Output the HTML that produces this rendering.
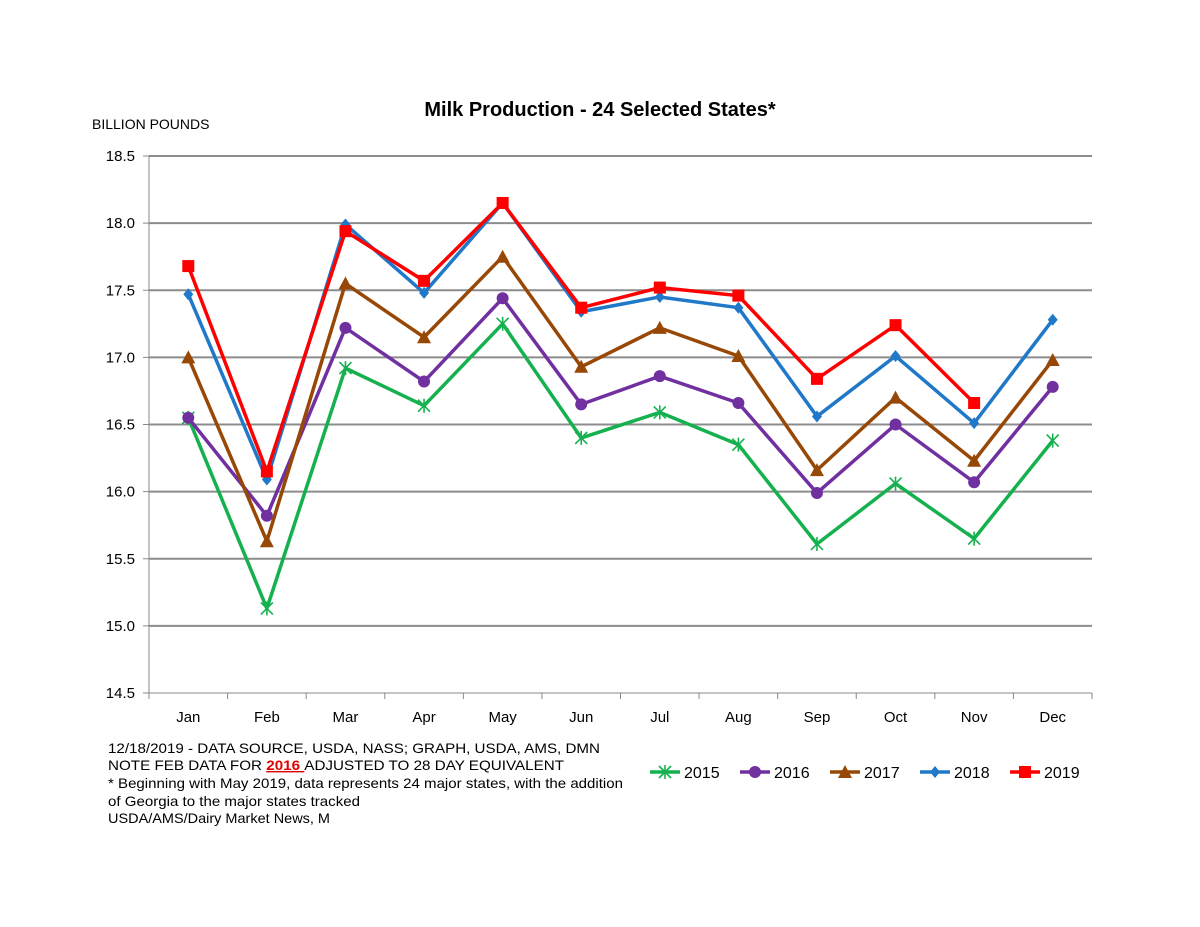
<!DOCTYPE html>
<html><head><meta charset="utf-8"><style>
body{margin:0;background:#fff;}
svg{display:block;font-family:"Liberation Sans",Arial,sans-serif;}
</style></head><body>
<svg id="chart" width="1200" height="927" viewBox="0 0 1200 927">
<rect width="1200" height="927" fill="#fff"/>
<text x="600" y="116" text-anchor="middle" font-size="20" font-weight="bold">Milk Production - 24 Selected States*</text>
<text x="92" y="129" font-size="14">BILLION POUNDS</text>
<g id="grid"></g><g id="axes"></g><g id="series"></g><g id="legend"></g>
<g font-size="14">
<text x="108" y="753" textLength="492" lengthAdjust="spacingAndGlyphs">12/18/2019 - DATA SOURCE, USDA, NASS; GRAPH, USDA, AMS, DMN</text>
<text x="108" y="770" textLength="456" lengthAdjust="spacingAndGlyphs">NOTE FEB DATA FOR <tspan fill="#e00000" font-weight="bold" text-decoration="underline">2016 </tspan>ADJUSTED TO 28 DAY EQUIVALENT</text>
<text x="108" y="788" textLength="515" lengthAdjust="spacingAndGlyphs">* Beginning with May 2019, data represents 24 major states, with the addition</text>
<text x="108" y="806" textLength="252" lengthAdjust="spacingAndGlyphs">of Georgia to the major states tracked</text>
<text x="108" y="823" textLength="222" lengthAdjust="spacingAndGlyphs">USDA/AMS/Dairy Market News, M</text>
</g>
</svg>
<script>
const months=["Jan","Feb","Mar","Apr","May","Jun","Jul","Aug","Sep","Oct","Nov","Dec"];
const yTicks=[14.5,15.0,15.5,16.0,16.5,17.0,17.5,18.0,18.5];
const s2015=[16.55,15.13,16.92,16.64,17.25,16.40,16.59,16.35,15.61,16.06,15.65,16.38];
const s2016=[16.55,15.82,17.22,16.82,17.44,16.65,16.86,16.66,15.99,16.50,16.07,16.78];
const s2017=[17.00,15.63,17.55,17.15,17.75,16.93,17.22,17.01,16.16,16.70,16.23,16.98];
const s2018=[17.47,16.09,17.99,17.48,18.15,17.34,17.45,17.37,16.56,17.01,16.51,17.28];
const s2019=[17.68,16.15,17.94,17.57,18.15,17.37,17.52,17.46,16.84,17.24,16.66];
const seriesNames=["2015","2016","2017","2018","2019"];
const NS="http://www.w3.org/2000/svg";
const L=149,R=1092,T=156,B=693,YMIN=14.5,YMAX=18.5;
const step=(R-L)/months.length;
const x=i=>L+step*(i+0.5);
const y=v=>B-(v-YMIN)/(YMAX-YMIN)*(B-T);
function mk(tag,attrs,parent){const e=document.createElementNS(NS,tag);for(const k in attrs)e.setAttribute(k,attrs[k]);parent.appendChild(e);return e;}
const grid=document.getElementById('grid'),axes=document.getElementById('axes'),ser=document.getElementById('series'),leg=document.getElementById('legend');
yTicks.forEach(t=>{
  if(t>YMIN){const g=mk('line',{x1:L,x2:R,y1:y(t),y2:y(t),stroke:'#8c8c8c','stroke-width':2},grid);
  
  }
  mk('line',{x1:L-6,x2:L,y1:y(t),y2:y(t),stroke:'#888','stroke-width':1},axes);
  const tx=mk('text',{x:L-14,y:y(t)+5,'text-anchor':'end','font-size':15},axes);tx.textContent=t.toFixed(1);
  
  
});
mk('line',{x1:L,x2:L,y1:T,y2:B,stroke:'#888','stroke-width':1},axes);
mk('line',{x1:L,x2:R,y1:B,y2:B,stroke:'#888','stroke-width':1},axes);
for(let i=0;i<=months.length;i++)mk('line',{x1:L+step*i,x2:L+step*i,y1:B,y2:B+6,stroke:'#888'},axes);
months.forEach((m,i)=>{const tx=mk('text',{x:x(i),y:B+29,'text-anchor':'middle','font-size':15},axes);tx.textContent=m;
  
  });
const colors=["#16b14f","#7030a0","#984806","#1f78c8","#ff0000"];
const data=[s2015,s2016,s2017,s2018,s2019];
function marker(k,cx,cy,p){
  if(k===0){const d=6;mk('path',{d:`M${cx-d} ${cy-d}L${cx+d} ${cy+d}M${cx-d} ${cy+d}L${cx+d} ${cy-d}M${cx} ${cy-7}L${cx} ${cy+7}`,stroke:colors[0],'stroke-width':1.6,fill:'none'},p);}
  else if(k===1)mk('circle',{cx,cy,r:6,fill:colors[1]},p);
  else if(k===2)mk('polygon',{points:`${cx},${cy-7} ${cx+7},${cy+6} ${cx-7},${cy+6}`,fill:colors[2]},p);
  else if(k===3)mk('polygon',{points:`${cx},${cy-6} ${cx+5},${cy} ${cx},${cy+6} ${cx-5},${cy}`,fill:colors[3]},p);
  else mk('rect',{x:cx-6,y:cy-6,width:12,height:12,fill:colors[4]},p);
}
data.forEach((arr,k)=>{
  const g=mk('g',{},ser);
  
  
  mk('polyline',{points:arr.map((v,i)=>x(i)+','+y(v)).join(' '),fill:'none',stroke:colors[k],'stroke-width':3.5,'stroke-linejoin':'round'},g);
  arr.forEach((v,i)=>marker(k,x(i),y(v),g));
});
seriesNames.forEach((n,k)=>{
  const lx=650+k*90,ly=772;
  const g=mk('g',{},leg);
  
  
  mk('line',{x1:lx,x2:lx+30,y1:ly,y2:ly,stroke:colors[k],'stroke-width':3.5},g);
  marker(k,lx+15,ly,g);
  const t=mk('text',{x:lx+34,y:ly+6,'font-size':16},g);t.textContent=n;
});
</script>
</body></html>
